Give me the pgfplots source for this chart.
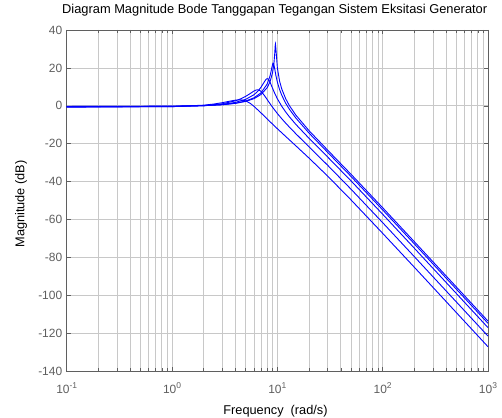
\documentclass[border=0pt]{standalone}
\usepackage{fontspec}
\setmainfont{Liberation Sans}
\usepackage{pgfplots}
\pgfplotsset{compat=1.18}
\usepackage{pgfplotstable}
\definecolor{axgray}{RGB}{95,95,95}
\definecolor{gridgray}{RGB}{200,200,200}
\definecolor{mblue}{RGB}{0,0,255}

\pgfplotstableread{
w db
0.1 -0.26
0.5 -0.24
1 -0.17
2 0.09
3 0.56
4 1.27
5 2.29
6 3.76
7 5.95
8 9.53
8.5 12.47
9 17.37
9.3 22.90
9.45 27.77
9.55 32.04
9.6 32.6
9.7 29.76
10 20.15
10.5 13.02
11 8.95
12 3.71
13 0.13
15 -4.95
20 -13.15
30 -23.38
50 -36.12
100 -53.81
200 -71.76
500 -95.6
1000 -113.66
}\curveA

\pgfplotstableread{
w db
0.1 -0.36
1 -0.26
2 0.04
3 0.55
4 1.35
5 2.51
6 4.21
7 6.83
8 11.44
8.5 15.54
8.8 19.18
9.0 21.79
9.1 22.53
9.2 22.42
9.4 20.10
9.7 15.85
10 12.54
10.5 8.54
11 5.62
12 1.36
13 -1.79
15 -6.50
20 -14.42
30 -24.55
50 -37.27
100 -54.96
200 -72.91
500 -96.76
1000 -114.82
}\curveB

\pgfplotstableread{
w db
0.1 -0.45
1 -0.32
2 0.06
3 0.74
4 1.79
5 3.38
6 5.83
6.5 7.57
7 9.80
7.5 12.49
7.8 13.91
8.0 14.34
8.2 14.10
8.5 12.65
9 9.29
9.5 6.24
10 3.72
11 -0.23
12 -3.28
13 -5.79
15 -9.84
20 -17.17
30 -27.01
50 -39.61
100 -57.26
200 -75.20
500 -99.05
1000 -117.1
}\curveC

\pgfplotstableread{
w db
0.1 -0.63
1 -0.46
2 0.08
3 1.06
4 2.62
4.5 3.67
5 4.95
5.5 6.40
6 7.79
6.3 8.33
6.5 8.43
6.8 8.10
7 7.58
7.5 5.60
8 3.33
8.5 1.19
9 -0.75
10 -4.07
11 -6.81
12 -9.16
13 -11.23
15 -14.79
20 -21.68
30 -31.37
50 -44.00
100 -61.70
200 -79.66
500 -103.51
1000 -121.57
}\curveD

\pgfplotstableread{
w db
0.1 -0.72
1 -0.46
2 0.33
2.5 0.93
3 1.64
3.5 2.38
4 2.98
4.5 3.14
5 2.59
5.5 1.36
6 -0.28
7 -3.77
8 -6.93
9 -9.68
10 -12.10
12 -16.19
15 -21.15
20 -27.62
30 -37.09
50 -49.65
100 -67.33
200 -85.25
500 -109.13
1000 -127.19
}\curveE

\newcommand{\tenp}[1]{10\raisebox{0.75ex}{\fontsize{8.5}{9}\selectfont #1}}

\begin{document}
\begin{tikzpicture}
\useasboundingbox (-66.7bp,-47bp) rectangle (435.3bp,371bp);
\begin{axis}[
  at={(0,0)}, anchor=south west,
  scale only axis, width=421.3bp, height=341bp,
  xmode=log, log basis x=10,
  xmin=0.1, xmax=1000, ymin=-140, ymax=40,
  xtick={0.1,1,10,100,1000},
  xticklabels={\tenp{-1},\tenp{0},\tenp{1},\tenp{2},\tenp{3}},
  minor xtick={0.2,0.3,0.4,0.5,0.6,0.7,0.8,0.9,2,3,4,5,6,7,8,9,20,30,40,50,60,70,80,90,200,300,400,500,600,700,800,900},
  ytick={-140,-120,-100,-80,-60,-40,-20,0,20,40},
  yticklabels={-140,-120,-100,-80,-60,-40,-20,0,20,40},
  xmajorgrids=true, xminorgrids=true, ymajorgrids=true,
  major grid style={gridgray, line width=0.7bp},
  minor grid style={gridgray, line width=0.7bp},
  tick align=inside,
  major tick length=4bp, minor tick length=3bp,
  axis line style={axgray, line width=0.6bp},
  every tick/.style={axgray, line width=0.5bp},
  tick label style={font=\fontsize{12}{14}\selectfont, text=axgray},
  xticklabel style={anchor=base, yshift=-22.5bp},
  yticklabel style={xshift=-1bp},
  title={Diagram Magnitude Bode Tanggapan Tegangan Sistem Eksitasi Generator},
  title style={at={(axis description cs:0.4937,1.0402)}, anchor=center, font=\fontsize{12.9}{15}\selectfont},
  xlabel={Frequency\ \ (rad/s)},
  ylabel={Magnitude (dB)},
  xlabel style={at={(axis description cs:0.4956,-0.1167)}, anchor=center, font=\fontsize{12.8}{15}\selectfont},
  ylabel style={at={(axis description cs:-0.1085,0.4897)}, anchor=center, font=\fontsize{12.8}{15}\selectfont},
]
\addplot[mblue, line width=0.9bp, mark=none] table[x=w,y=db]{\curveA};
\addplot[mblue, line width=0.9bp, mark=none] table[x=w,y=db]{\curveB};
\addplot[mblue, line width=0.9bp, mark=none] table[x=w,y=db]{\curveC};
\addplot[mblue, line width=0.9bp, mark=none] table[x=w,y=db]{\curveD};
\addplot[mblue, line width=0.9bp, mark=none] table[x=w,y=db]{\curveE};
\end{axis}
\end{tikzpicture}
\end{document}
